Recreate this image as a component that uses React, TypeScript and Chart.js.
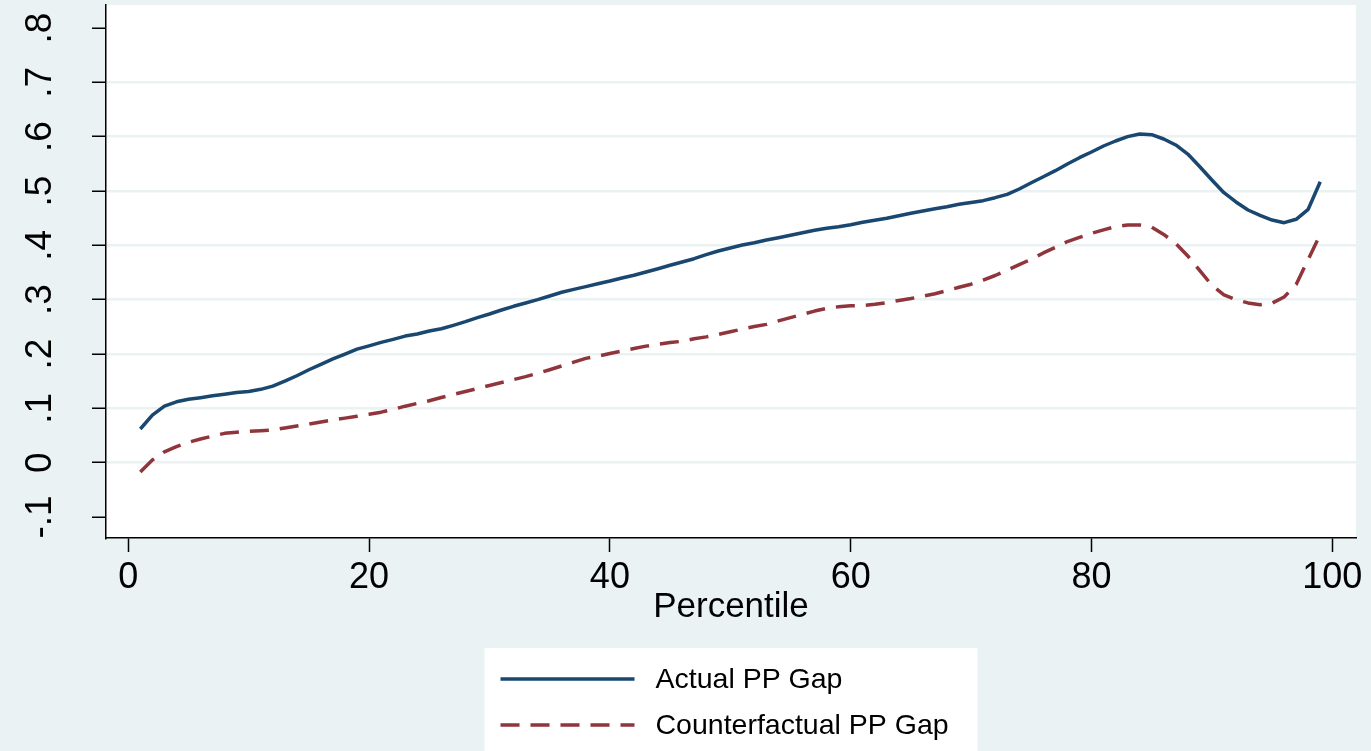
import React, { useEffect, useRef } from 'react';
import { Chart, registerables } from 'chart.js';

Chart.register(...registerables);

// ---------------- data ----------------
const percentiles = [
  1, 2, 3, 4, 5, 6, 7, 8, 9, 10, 11, 12, 13, 14, 15, 16, 17, 18, 19, 20,
  21, 22, 23, 24, 25, 26, 27, 28, 29, 30, 31, 32, 33, 34, 35, 36, 37, 38, 39, 40,
  41, 42, 43, 44, 45, 46, 47, 48, 49, 50, 51, 52, 53, 54, 55, 56, 57, 58, 59, 60,
  61, 62, 63, 64, 65, 66, 67, 68, 69, 70, 71, 72, 73, 74, 75, 76, 77, 78, 79, 80,
  81, 82, 83, 84, 85, 86, 87, 88, 89, 90, 91, 92, 93, 94, 95, 96, 97, 98, 99,
];

const actualGap = [
  0.062, 0.0875, 0.104, 0.112, 0.1167, 0.1197, 0.123, 0.126, 0.129, 0.131,
  0.135, 0.141, 0.150, 0.160, 0.171, 0.181, 0.191, 0.200, 0.209, 0.215,
  0.2215, 0.227, 0.233, 0.2368, 0.2424, 0.2466, 0.2528, 0.2595, 0.2669, 0.2736,
  0.281, 0.2878, 0.2939, 0.300, 0.3068, 0.3136, 0.319, 0.324, 0.3294, 0.3344,
  0.340, 0.3449, 0.351, 0.357, 0.3633, 0.3693, 0.3754, 0.3828, 0.3896, 0.3951,
  0.4006, 0.4049, 0.4098, 0.414, 0.4185, 0.4233, 0.4276, 0.4314, 0.4343, 0.438,
  0.4424, 0.446, 0.4498, 0.4546, 0.459, 0.4632, 0.4674, 0.4711, 0.4755, 0.479,
  0.4822, 0.4877, 0.4939, 0.5037, 0.5153, 0.5263, 0.5374, 0.5497, 0.5613, 0.5718,
  0.5828, 0.592, 0.600, 0.605, 0.6036, 0.5957, 0.5847, 0.568, 0.5447, 0.5203,
  0.4969, 0.4798, 0.465, 0.4553, 0.4466, 0.4417, 0.4479, 0.4663, 0.5171,
];

const counterfactualGap = [
  -0.017, 0.005, 0.020, 0.0295, 0.0375, 0.0436, 0.049, 0.054, 0.056, 0.0577,
  0.059, 0.060, 0.064, 0.0675, 0.071, 0.075, 0.0786, 0.082, 0.0854, 0.089,
  0.093, 0.098, 0.104, 0.109, 0.114, 0.120, 0.1255, 0.131, 0.1366, 0.142,
  0.1475, 0.153, 0.1583, 0.1645, 0.171, 0.178, 0.185, 0.192, 0.196, 0.201,
  0.2055, 0.210, 0.2145, 0.218, 0.221, 0.2235, 0.228, 0.2315, 0.236, 0.241,
  0.2458, 0.2505, 0.2545, 0.261, 0.267, 0.273, 0.279, 0.2838, 0.287, 0.2888,
  0.2893, 0.2915, 0.2945, 0.2985, 0.302, 0.3065, 0.311, 0.3165, 0.3228, 0.3285,
  0.336, 0.3445, 0.3545, 0.3645, 0.3745, 0.386, 0.3964, 0.407, 0.4145, 0.422,
  0.4285, 0.4345, 0.4374, 0.4374, 0.4335, 0.420, 0.4035, 0.3805, 0.3535, 0.3265,
  0.309, 0.300, 0.294, 0.2905, 0.2935, 0.305, 0.328, 0.374, 0.420,
];

const seriesNames = ['Actual PP Gap', 'Counterfactual PP Gap'];
const xTitle = 'Percentile';
const xTicks = [0, 20, 40, 60, 80, 100];
const yTicks = [-0.1, 0, 0.1, 0.2, 0.3, 0.4, 0.5, 0.6, 0.7, 0.8];
const yTickLabels = ['-.1', '0', '.1', '.2', '.3', '.4', '.5', '.6', '.7', '.8'];
const yGridTicks = [0, 0.1, 0.2, 0.3, 0.4, 0.5, 0.6, 0.7];

// ---------------- style ----------------
const BG = '#EAF2F3';
const NAVY = '#1A476F';
const MAROON = '#90353B';
const FONT = '"Liberation Sans", Arial, Helvetica, sans-serif';
const W = 1371;
const H = 751;

const backgroundPlugin = {
  id: 'stataBackground',
  beforeDraw(chart: any) {
    const { ctx, chartArea } = chart;
    ctx.save();
    ctx.fillStyle = BG;
    ctx.fillRect(0, 0, chart.width, chart.height);
    ctx.fillStyle = '#FFFFFF';
    ctx.fillRect(chartArea.left, chartArea.top, chartArea.right - chartArea.left, chartArea.bottom - chartArea.top);
    ctx.restore();
  },
};

const legendPlugin = {
  id: 'stataLegend',
  afterDraw(chart: any) {
    const { ctx, chartArea } = chart;
    const cx = (chartArea.left + chartArea.right) / 2;
    const boxW = 493;
    const boxX = cx - boxW / 2;
    const boxY = chartArea.bottom + 110;
    ctx.save();
    ctx.fillStyle = '#FFFFFF';
    ctx.fillRect(boxX, boxY, boxW, chart.height - boxY + 10);
    chart.data.datasets.forEach((ds: any, i: number) => {
      const y = boxY + 31 + i * 46;
      ctx.strokeStyle = ds.borderColor;
      ctx.lineWidth = 3.5;
      ctx.lineCap = 'butt';
      ctx.setLineDash(ds.borderDash || []);
      ctx.beginPath();
      ctx.moveTo(boxX + 16, y);
      ctx.lineTo(boxX + 150, y);
      ctx.stroke();
      ctx.setLineDash([]);
      ctx.fillStyle = '#000000';
      ctx.font = `28.5px ${FONT}`;
      ctx.textAlign = 'left';
      ctx.textBaseline = 'middle';
      ctx.fillText(ds.label, boxX + 171, y + 1);
    });
    ctx.restore();
  },
};

export default function App() {
  const canvasRef = useRef<HTMLCanvasElement | null>(null);

  useEffect(() => {
    const canvas = canvasRef.current;
    if (!canvas) return;

    const chart = new Chart(canvas, {
      type: 'line',
      data: {
        datasets: [
          {
            label: seriesNames[0],
            data: percentiles.map((p, i) => ({ x: p, y: actualGap[i] })),
            borderColor: NAVY,
            backgroundColor: NAVY,
            borderWidth: 3.5,
            pointRadius: 0,
            tension: 0,
            fill: false,
            borderJoinStyle: 'round',
          },
          {
            label: seriesNames[1],
            data: percentiles.map((p, i) => ({ x: p, y: counterfactualGap[i] })),
            borderColor: MAROON,
            backgroundColor: MAROON,
            borderWidth: 3.5,
            borderDash: [19, 11],
            pointRadius: 0,
            tension: 0,
            fill: false,
            borderJoinStyle: 'round',
          },
        ],
      },
      options: {
        responsive: false,
        animation: false,
        events: [],
        layout: { padding: { top: 5, right: 15, bottom: 122.6, left: 0 } },
        plugins: {
          legend: { display: false },
          tooltip: { enabled: false },
          title: { display: false },
        },
        scales: {
          x: {
            type: 'linear',
            min: -1.85,
            max: 101.97,
            afterBuildTicks: (scale: any) => {
              scale.ticks = xTicks.map((v) => ({ value: v }));
            },
            afterFit: (scale: any) => {
              scale.height = 90.4;
              scale.paddingLeft = 0;
              scale.paddingRight = 0;
            },
            ticks: {
              autoSkip: false,
              maxRotation: 0,
              minRotation: 0,
              padding: 4,
              color: '#000000',
              font: { family: FONT, size: 36 },
              callback: (v: any) => String(v),
            },
            grid: {
              drawOnChartArea: false,
              color: 'rgba(0,0,0,0)',
              tickColor: '#000000',
              tickLength: 14,
              tickWidth: 1.5,
            },
            border: { display: true, color: '#000000', width: 1.5 },
            title: {
              display: true,
              text: xTitle,
              color: '#000000',
              font: { family: FONT, size: 35 },
              padding: { top: 0, bottom: 0 },
            },
          },
          y: {
            type: 'linear',
            min: -0.1386,
            max: 0.8423,
            afterBuildTicks: (scale: any) => {
              scale.ticks = yTicks.map((v) => ({ value: v }));
            },
            afterCalculateLabelRotation: (scale: any) => {
              scale.labelRotation = 90;
            },
            afterFit: (scale: any) => {
              scale.width = 106;
              scale.paddingTop = 0;
              scale.paddingBottom = 0;
            },
            ticks: {
              autoSkip: false,
              crossAlign: 'center',
              padding: 30,
              color: '#000000',
              font: { family: FONT, size: 37 },
              callback: (v: any) => {
                const idx = yTicks.findIndex((t) => Math.abs(t - v) < 1e-9);
                return idx >= 0 ? yTickLabels[idx] : '';
              },
            },
            grid: {
              drawOnChartArea: true,
              color: (ctx: any) => {
                const v = ctx.tick ? ctx.tick.value : NaN;
                return yGridTicks.some((t) => Math.abs(t - v) < 1e-9) ? BG : 'rgba(0,0,0,0)';
              },
              lineWidth: 2.5,
              tickColor: '#000000',
              tickLength: 14,
              tickWidth: 1.5,
            },
            border: { display: true, color: '#000000', width: 1.5 },
          },
        },
      },
      plugins: [backgroundPlugin, legendPlugin],
    } as any);

    return () => {
      chart.destroy();
    };
  }, []);

  return (
    <div style={{ position: 'fixed', left: 0, top: 0, width: W, height: H, background: BG }}>
      <canvas ref={canvasRef} width={W} height={H} style={{ display: 'block', width: W, height: H }} />
    </div>
  );
}
